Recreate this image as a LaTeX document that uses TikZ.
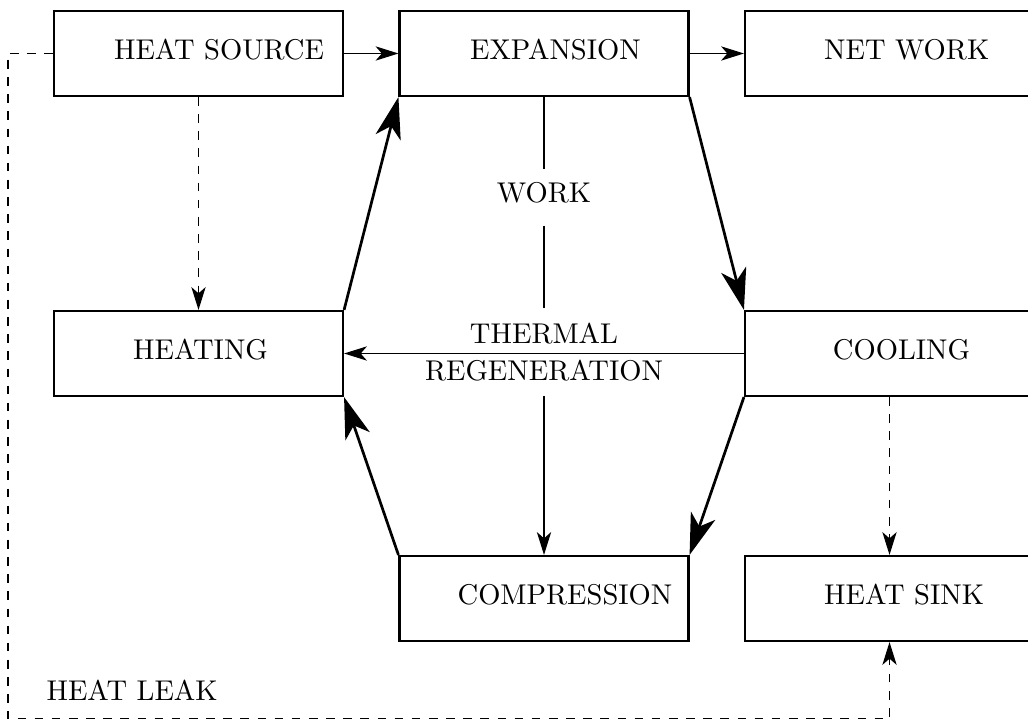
\documentclass[tikz,border=0pt]{standalone}
\usetikzlibrary{arrows.meta}
\begin{document}
\begin{tikzpicture}[x=0.35pt,y=-0.35pt,
  box/.style={draw,line width=0.75pt,minimum width=101.15pt,minimum height=29.75pt,inner sep=0pt},
  boxtext/.style={inner sep=0pt,yshift=1.4pt},
  thinarrow/.style={line width=0.4pt,-{Stealth[length=8pt,width=5pt,inset=2.2pt]}},
  thinline/.style={line width=0.4pt},
  cyc/.style={line width=0.95pt,-{Stealth[length=14.5pt,width=9pt,inset=4pt]}}]
\useasboundingbox (0,0) rectangle (1028,719);
\clip (0,0) rectangle (1028,719);
% boxes
\node[box,label={[boxtext,xshift=7.2pt]center:HEAT SOURCE}] (src) at (198.5,53.5) {};
\node[box,label={[boxtext,xshift=4.0pt]center:EXPANSION}] (exp) at (544,53.5) {};
\node[box,label={[boxtext,xshift=6.0pt]center:NET WORK}] (nw) at (889.5,53.5) {};
\node[box,label={[boxtext,xshift=0.7pt]center:HEATING}] (heat) at (198.5,353.5) {};
\node[box,label={[boxtext,xshift=4.2pt]center:COOLING}] (cool) at (889.5,353.5) {};
\node[box,label={[boxtext,xshift=7.35pt]center:COMPRESSION}] (comp) at (544,598.5) {};
\node[box,label={[boxtext,xshift=5.1pt]center:HEAT SINK}] (sink) at (889.5,598.5) {};
% middle labels
\node[inner sep=0pt,minimum height=19.25pt,text depth=3.5pt] (work) at (544,197.5) {WORK};
\node[inner sep=0pt,minimum height=30.45pt,align=center] (regen) at (544,352) {THERMAL\\[1pt]REGENERATION};
\node[anchor=west,inner sep=0pt] (leak) at (46,690) {HEAT LEAK};
% thin connectors
\draw[thinarrow] (src) -- (exp);
\draw[thinarrow] (exp) -- (nw);
\draw[thinarrow,dashed] (src) -- (heat);
\draw[thinarrow,dashed] (cool) -- (sink);
\draw[thinline] (exp) -- (work);
\draw[thinline] (work) -- (regen);
\draw[thinarrow] (regen) -- (comp);
\draw[thinarrow] (cool) -- (heat);
% cycle
\draw[cyc] (heat.north east) -- (exp.south west);
\draw[cyc] (exp.south east) -- (cool.north west);
\draw[cyc] (cool.south west) -- (comp.north east);
\draw[cyc] (comp.north west) -- (heat.south east);
% heat leak
\coordinate (lk1) at (8,53.5);
\coordinate (lk2) at (8,719);
\draw[thinarrow,dashed] (src.west) -- (lk1) -- (lk2) -| (sink.south);
\end{tikzpicture}
\end{document}
